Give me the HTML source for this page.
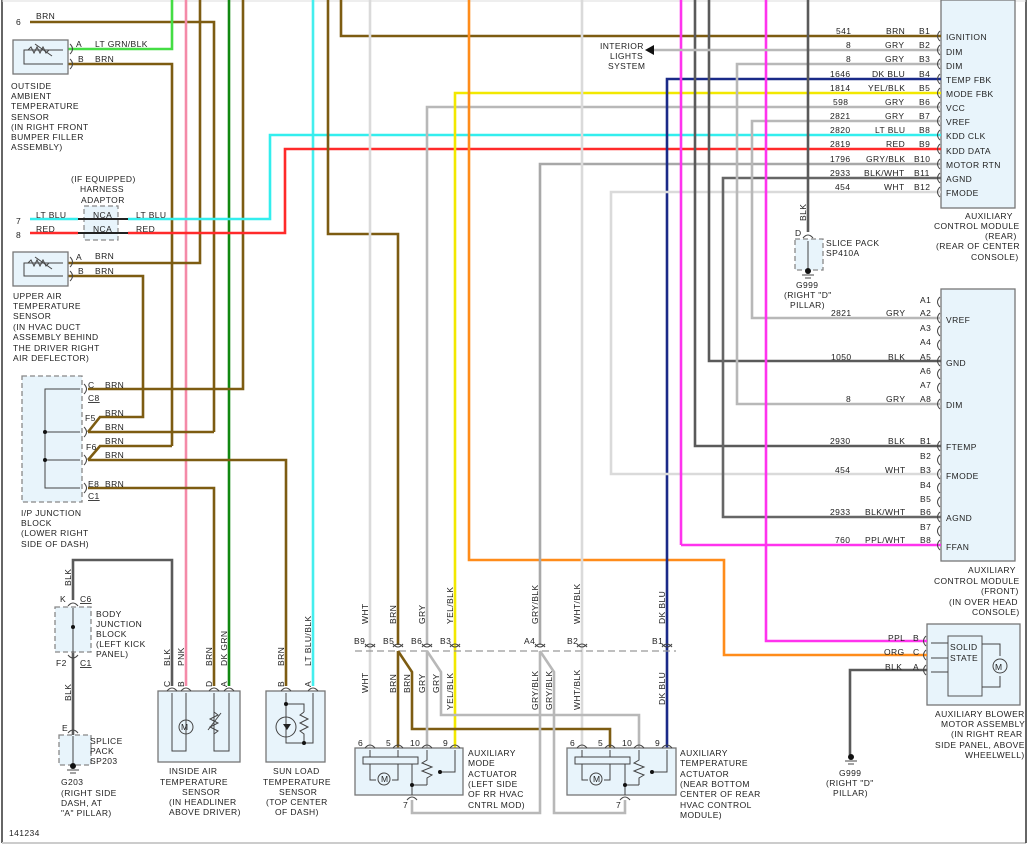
<!DOCTYPE html>
<html><head><meta charset="utf-8"><style>
html,body{margin:0;padding:0;background:#fff}
svg{display:block}
text{font-family:"Liberation Sans",sans-serif;font-size:8.5px;fill:#222;letter-spacing:0.4px}
.w{fill:none;stroke-width:2.6;stroke-linejoin:miter}
.brn{stroke:#7d5c12}
.gry{stroke:#b8b8b8}
.wht{stroke:#dadada}
.blk{stroke:#5a5a5a}
.box{fill:#e8f4fb;stroke:#777;stroke-width:1.3}
.dbox{fill:#e8f4fb;stroke:#888;stroke-width:1.3;stroke-dasharray:5,3}
.th{fill:none;stroke:#444;stroke-width:1}
.c{fill:none;stroke:#444;stroke-width:1}
</style></head><body>
<svg width="1034" height="848" viewBox="0 0 1034 848" xmlns="http://www.w3.org/2000/svg">
<!-- frame -->
<line x1="2" y1="0" x2="2" y2="843" stroke="#333" stroke-width="1.5"/>
<line x1="2" y1="843" x2="1026" y2="843" stroke="#ccc" stroke-width="2"/>
<line x1="1026" y1="0" x2="1026" y2="843" stroke="#333" stroke-width="1.5"/>
<line x1="2" y1="1" x2="1026" y2="1" stroke="#ddd" stroke-width="1"/>

<!-- module boxes -->
<rect x="941" y="0" width="74" height="208" class="box"/>
<rect x="941" y="289" width="74" height="272" class="box"/>
<rect x="927" y="624" width="93" height="81" class="box"/>

<!-- ===== WIRES ===== -->
<!-- left sensors -->
<polyline class="w brn" points="30,22 214,22 214,432"/>
<polyline class="w" stroke="#44dd44" points="68,49 172,49 172,0"/>
<polyline class="w brn" points="68,64 172,64 172,446"/>
<line class="w" stroke="#f48aa8" x1="186" y1="0" x2="186" y2="686"/>
<polyline class="w brn" points="200,0 200,263 68,263"/>
<line class="w" stroke="#118811" x1="229" y1="0" x2="229" y2="686"/>
<polyline class="w brn" points="243,0 243,389 88,389"/>
<polyline class="w brn" points="68,276 143,276 143,417 100,417 88,432"/>
<polyline class="w brn" points="88,432 214,432"/>
<polyline class="w brn" points="172,446 100,446 88,460"/>
<polyline class="w brn" points="88,460 286,460 286,686"/>
<polyline class="w brn" points="88,488 214,488 214,686"/>
<polyline class="w blk" points="73,600 73,560 172,560 172,686"/>
<line class="w blk" x1="73" y1="652" x2="73" y2="735"/>
<line class="w" stroke="#44eeee" x1="313" y1="0" x2="313" y2="686"/>
<!-- harness adaptor wires -->
<line class="w" stroke="#33eeee" x1="30" y1="219" x2="78" y2="219"/>
<polyline class="w" stroke="#33eeee" points="128,219 270,219 270,135 941,135"/>
<line class="w" stroke="#ff2a2a" x1="30" y1="233" x2="78" y2="233"/>
<polyline class="w" stroke="#ff2a2a" points="128,233 285,233 285,149 941,149"/>

<!-- center verticals -->
<polyline class="w brn" points="328,0 328,234 398,234 398,645"/>
<polyline class="w brn" points="341,0 341,36 941,36"/>
<line class="w wht" x1="370" y1="0" x2="370" y2="748"/>
<polyline class="w gry" points="941,107 427,107 427,645"/>
<polyline class="w" stroke="#f2e800" points="941,93 455,93 455,748"/>
<polyline class="w" stroke="#ff8c1a" points="469,0 469,560 724,560 724,655 927,655"/>
<polyline class="w" stroke="#a8a8a8" points="941,164 540,164 540,645"/>
<line class="w wht" x1="582" y1="0" x2="582" y2="748"/>
<polyline class="w" stroke="#1a2a88" points="941,79 667,79 667,748"/>
<polyline class="w wht" points="941,192 611,192 611,474 941,474"/>
<line class="w" stroke="#ff33ee" x1="681" y1="0" x2="681" y2="545"/>
<line class="w" stroke="#ff33ee" x1="681" y1="545" x2="941" y2="545"/>
<polyline class="w blk" points="695,0 695,446 941,446"/>
<polyline class="w blk" points="709,0 709,361 941,361"/>
<polyline class="w" stroke="#666" stroke-width="1.8" points="941,178 723,178 723,517 941,517"/>
<polyline class="w gry" points="941,64 737,64 737,404 941,404"/>
<polyline class="w gry" points="941,121 752,121 752,318 941,318"/>
<polyline class="w" stroke="#ff33ee" points="766,0 766,641 927,641"/>
<line class="w gry" x1="650" y1="50" x2="941" y2="50"/>
<polygon points="645,50 654,45 654,55" fill="#111"/>
<line class="w blk" x1="808" y1="0" x2="808" y2="232"/>
<polyline class="w blk" points="927,670 850,670 850,757"/>

<!-- actuator wiring below dashed line -->
<line x1="355" y1="651" x2="676" y2="651" stroke="#999" stroke-width="1.2" stroke-dasharray="7,4"/>
<line class="w brn" x1="398" y1="651" x2="398" y2="748"/>
<polyline class="w brn" points="398,651 412,672 412,729 610,729 610,748"/>
<line class="w gry" x1="427" y1="651" x2="427" y2="748"/>
<polyline class="w gry" points="427,651 441,672 441,715 639,715 639,748"/>
<polyline class="w gry" points="540,651 540,813 412,813 412,800"/>
<polyline class="w gry" points="540,651 554,672 554,813 625,813 625,800"/>

<!-- connector arcs top row (y=643) -->
<g class="c">
<path d="M365,647 q5,-6 10,0"/><path d="M393,647 q5,-6 10,0"/><path d="M422,647 q5,-6 10,0"/><path d="M450,647 q5,-6 10,0"/>
<path d="M535,647 q5,-6 10,0"/><path d="M577,647 q5,-6 10,0"/><path d="M662,647 q5,-6 10,0"/>
<path d="M365,644 q5,6 10,0"/><path d="M393,644 q5,6 10,0"/><path d="M422,644 q5,6 10,0"/><path d="M450,644 q5,6 10,0"/>
<path d="M535,644 q5,6 10,0"/><path d="M577,644 q5,6 10,0"/><path d="M662,644 q5,6 10,0"/>
</g>
<g font-size="8">
<text x="354" y="644">B9</text><text x="383" y="644">B5</text><text x="411" y="644">B6</text><text x="440" y="644">B3</text>
<text x="524" y="644">A4</text><text x="567" y="644">B2</text><text x="652" y="644">B1</text>
</g>
<!-- vertical wire labels -->
<g>
<text transform="translate(368,624) rotate(-90)">WHT</text>
<text transform="translate(396,624) rotate(-90)">BRN</text>
<text transform="translate(425,624) rotate(-90)">GRY</text>
<text transform="translate(453,624) rotate(-90)">YEL/BLK</text>
<text transform="translate(538,624) rotate(-90)">GRY/BLK</text>
<text transform="translate(580,624) rotate(-90)">WHT/BLK</text>
<text transform="translate(665,624) rotate(-90)">DK BLU</text>
<text transform="translate(368,693) rotate(-90)">WHT</text>
<text transform="translate(396,693) rotate(-90)">BRN</text>
<text transform="translate(410,693) rotate(-90)">BRN</text>
<text transform="translate(425,693) rotate(-90)">GRY</text>
<text transform="translate(439,693) rotate(-90)">GRY</text>
<text transform="translate(453,710) rotate(-90)">YEL/BLK</text>
<text transform="translate(538,710) rotate(-90)">GRY/BLK</text>
<text transform="translate(552,710) rotate(-90)">GRY/BLK</text>
<text transform="translate(580,710) rotate(-90)">WHT/BLK</text>
<text transform="translate(665,705) rotate(-90)">DK BLU</text>
</g>

<!-- actuators -->
<g>
<rect x="355" y="748" width="108" height="47" class="box"/>
<rect x="567" y="748" width="109" height="47" class="box"/>
<g class="c">
<path d="M365,748 q5,-6 10,0"/><path d="M393,748 q5,-6 10,0"/><path d="M422,748 q5,-6 10,0"/><path d="M450,748 q5,-6 10,0"/>
<path d="M577,748 q5,-6 10,0"/><path d="M605,748 q5,-6 10,0"/><path d="M634,748 q5,-6 10,0"/><path d="M662,748 q5,-6 10,0"/>
<path d="M407,800 q5,-6 10,0"/><path d="M620,800 q5,-6 10,0"/>
</g>
<g font-size="8"><text x="358" y="746">6</text><text x="386" y="746">5</text><text x="410" y="746">10</text><text x="443" y="746">9</text>
<text x="570" y="746">6</text><text x="598" y="746">5</text><text x="622" y="746">10</text><text x="655" y="746">9</text>
<text x="403" y="808">7</text><text x="616" y="808">7</text></g>
<g class="th">
<rect x="363" y="757" width="55" height="7"/><line x1="370" y1="750" x2="370" y2="757"/><line x1="398" y1="750" x2="398" y2="757"/>
<polyline points="370,764 370,780 376,780"/><polyline points="398,764 398,780 392,780"/><circle cx="384" cy="779" r="6"/>
<polyline points="412,764 412,785 427,785"/><line x1="412" y1="785" x2="412" y2="795"/>
<polyline points="427,750 427,760 422,763 432,767 422,771 432,775 427,778 427,785"/>
<polyline points="455,750 455,772 440,772"/>
<rect x="575" y="757" width="55" height="7"/><line x1="582" y1="750" x2="582" y2="757"/><line x1="610" y1="750" x2="610" y2="757"/>
<polyline points="582,764 582,780 588,780"/><polyline points="610,764 610,780 604,780"/><circle cx="596" cy="779" r="6"/>
<polyline points="625,764 625,785 639,785"/><line x1="625" y1="785" x2="625" y2="795"/>
<polyline points="639,750 639,760 634,763 644,767 634,771 644,775 639,778 639,785"/>
<polyline points="667,750 667,772 652,772"/>
</g>
<circle cx="412" cy="785" r="2" fill="#111"/><circle cx="440" cy="772" r="2" fill="#111"/><circle cx="625" cy="785" r="2" fill="#111"/><circle cx="652" cy="772" r="2" fill="#111"/>
<text x="381" y="782" font-size="7">M</text><text x="593" y="782" font-size="7">M</text>
<text x="468" y="756">AUXILIARY</text><text x="468" y="766">MODE</text><text x="468" y="777">ACTUATOR</text><text x="468" y="787">(LEFT SIDE</text><text x="468" y="797">OF RR HVAC</text><text x="468" y="808">CNTRL MOD)</text>
<text x="680" y="756">AUXILIARY</text><text x="680" y="766">TEMPERATURE</text><text x="680" y="777">ACTUATOR</text><text x="680" y="787">(NEAR BOTTOM</text><text x="680" y="797">CENTER OF REAR</text><text x="680" y="808">HVAC CONTROL</text><text x="680" y="818">MODULE)</text>
</g>

<!-- ===== LEFT SIDE ===== -->
<text x="16" y="25">6</text><text x="36" y="19">BRN</text>
<rect x="13" y="40" width="55" height="34" class="box"/>
<g class="th"><polyline points="63,50 24,50 24,64 63,64"/><polyline points="28,50 31,47 34,53 37,47 40,53 43,47 46,53 49,50"/><line x1="35" y1="44" x2="52" y2="56"/></g>
<g class="c"><path d="M70,44 q5,5 0,10"/><path d="M70,59 q5,5 0,10"/></g>
<text x="76" y="47">A</text><text x="95" y="47">LT GRN/BLK</text><text x="78" y="62">B</text><text x="95" y="62">BRN</text>
<text x="11" y="89">OUTSIDE</text><text x="11" y="99">AMBIENT</text><text x="11" y="109">TEMPERATURE</text><text x="11" y="120">SENSOR</text><text x="11" y="130">(IN RIGHT FRONT</text><text x="11" y="140">BUMPER FILLER</text><text x="11" y="150">ASSEMBLY)</text>

<text x="71" y="182">(IF EQUIPPED)</text><text x="80" y="192">HARNESS</text><text x="81" y="203">ADAPTOR</text>
<rect x="84" y="206" width="34" height="34" fill="#e8f4fb" stroke="#888" stroke-dasharray="5,3" stroke-width="1.2"/>
<line x1="78" y1="219" x2="128" y2="219" stroke="#222" stroke-width="2"/><line x1="78" y1="233" x2="128" y2="233" stroke="#222" stroke-width="2"/>
<text x="93" y="218">NCA</text><text x="93" y="232">NCA</text>
<text x="16" y="224">7</text><text x="36" y="218">LT BLU</text><text x="136" y="218">LT BLU</text>
<text x="16" y="238">8</text><text x="36" y="232">RED</text><text x="136" y="232">RED</text>

<rect x="13" y="252" width="55" height="34" class="box"/>
<g class="th"><polyline points="63,263 24,263 24,276 63,276"/><polyline points="28,263 31,260 34,266 37,260 40,266 43,260 46,266 49,263"/><line x1="35" y1="257" x2="52" y2="269"/></g>
<g class="c"><path d="M70,257 q5,5 0,10"/><path d="M70,271 q5,5 0,10"/></g>
<text x="76" y="260">A</text><text x="95" y="259">BRN</text><text x="78" y="274">B</text><text x="95" y="274">BRN</text>
<text x="13" y="299">UPPER AIR</text><text x="13" y="309">TEMPERATURE</text><text x="13" y="319">SENSOR</text><text x="13" y="330">(IN HVAC DUCT</text><text x="13" y="340">ASSEMBLY BEHIND</text><text x="13" y="351">THE DRIVER RIGHT</text><text x="13" y="361">AIR DEFLECTOR)</text>

<rect x="22" y="376" width="60" height="126" class="dbox"/>
<g class="th"><polyline points="80,389 45,389 45,488 80,488"/><line x1="45" y1="432" x2="80" y2="432"/><line x1="45" y1="460" x2="80" y2="460"/></g>
<circle cx="45" cy="432" r="2" fill="#111"/><circle cx="45" cy="460" r="2" fill="#111"/>
<g class="c"><path d="M84,384 q5,5 0,10"/><path d="M84,427 q5,5 0,10"/><path d="M84,455 q5,5 0,10"/><path d="M84,483 q5,5 0,10"/></g>
<text x="88" y="388">C</text><text x="88" y="401" text-decoration="underline">C8</text><text x="105" y="388">BRN</text>
<text x="85" y="421">F5</text><text x="105" y="416">BRN</text><text x="105" y="430">BRN</text>
<text x="86" y="450">F6</text><text x="105" y="444">BRN</text><text x="105" y="458">BRN</text>
<text x="88" y="487">E8</text><text x="105" y="487">BRN</text><text x="88" y="499" text-decoration="underline">C1</text>
<text x="21" y="516">I/P JUNCTION</text><text x="21" y="526">BLOCK</text><text x="21" y="536">(LOWER RIGHT</text><text x="21" y="547">SIDE OF DASH)</text>

<text transform="translate(71,586) rotate(-90)">BLK</text>
<text x="60" y="602">K</text><text x="80" y="602" text-decoration="underline">C6</text>
<rect x="55" y="607" width="36" height="45" class="dbox"/>
<g class="c"><path d="M68,606 q5,-6 10,0"/><path d="M68,655 q5,6 10,0"/></g>
<line x1="73" y1="608" x2="73" y2="652" stroke="#444"/><circle cx="73" cy="627" r="2" fill="#111"/>
<text x="96" y="617">BODY</text><text x="96" y="627">JUNCTION</text><text x="96" y="637">BLOCK</text><text x="96" y="647">(LEFT KICK</text><text x="96" y="657">PANEL)</text>
<text x="56" y="666">F2</text><text x="80" y="666" text-decoration="underline">C1</text>
<text transform="translate(71,701) rotate(-90)">BLK</text>
<text x="62" y="731">E</text>
<rect x="59" y="735" width="32" height="30" class="dbox"/>
<g class="c"><path d="M68,733 q5,-6 10,0"/></g>
<line x1="73" y1="736" x2="73" y2="765" stroke="#444"/><circle cx="73" cy="766" r="3" fill="#111"/>
<line x1="67" y1="770" x2="79" y2="770" stroke="#444"/><line x1="70" y1="773" x2="76" y2="773" stroke="#444"/>
<text x="90" y="744">SPLICE</text><text x="90" y="754">PACK</text><text x="90" y="764">SP203</text>
<text x="61" y="785">G203</text><text x="61" y="796">(RIGHT SIDE</text><text x="61" y="806">DASH, AT</text><text x="61" y="816">"A" PILLAR)</text>
<text x="9" y="836">141234</text>

<!-- inside air / sun load -->
<text transform="translate(170,666) rotate(-90)">BLK</text><text transform="translate(184,666) rotate(-90)">PNK</text>
<text transform="translate(212,666) rotate(-90)">BRN</text><text transform="translate(227,666) rotate(-90)">DK GRN</text>
<text transform="translate(284,666) rotate(-90)">BRN</text><text transform="translate(311,666) rotate(-90)">LT BLU/BLK</text>
<g font-size="7.5"><text transform="translate(170,687) rotate(-90)">C</text><text transform="translate(184,687) rotate(-90)">B</text><text transform="translate(212,687) rotate(-90)">D</text><text transform="translate(227,687) rotate(-90)">A</text><text transform="translate(284,687) rotate(-90)">B</text><text transform="translate(311,687) rotate(-90)">A</text></g>
<rect x="158" y="691" width="82" height="71" class="box"/>
<rect x="266" y="691" width="59" height="71" class="box"/>
<g class="c"><path d="M167,691 q5,-6 10,0"/><path d="M181,691 q5,-6 10,0"/><path d="M209,691 q5,-6 10,0"/><path d="M224,691 q5,-6 10,0"/><path d="M281,691 q5,-6 10,0"/><path d="M308,691 q5,-6 10,0"/></g>
<g class="th">
<polyline points="172,693 172,751 186,751 186,693"/><circle cx="186" cy="727" r="7"/>
<polyline points="214,693 214,751 229,751 229,693"/><polyline points="214,712 218,715 210,719 218,723 210,727 218,731 214,734"/><line x1="208" y1="730" x2="221" y2="713"/>
<polyline points="286,693 286,743 304,743 313,743 313,693"/><polyline points="286,704 304,704 304,712"/><polyline points="304,712 300,715 308,719 300,723 308,727 300,731 304,734 304,743"/><circle cx="286" cy="727" r="10"/>
</g>
<circle cx="286" cy="704" r="2" fill="#111"/><circle cx="304" cy="743" r="2" fill="#111"/>
<text x="181" y="730" font-size="7">M</text>
<polygon points="283,724 291,724 287,730" fill="#222"/>
<text x="169" y="774">INSIDE AIR</text><text x="160" y="785">TEMPERATURE</text><text x="182" y="795">SENSOR</text><text x="169" y="805">(IN HEADLINER</text><text x="169" y="815">ABOVE DRIVER)</text>
<text x="273" y="774">SUN LOAD</text><text x="263" y="785">TEMPERATURE</text><text x="279" y="795">SENSOR</text><text x="266" y="805">(TOP CENTER</text><text x="275" y="815">OF DASH)</text>

<!-- ===== RIGHT: rear module ===== -->
<text x="600" y="49">INTERIOR</text><text x="610" y="59">LIGHTS</text><text x="608" y="69">SYSTEM</text>
<g class="c">
<path d="M940,31 q-5,5 0,10"/><path d="M940,45 q-5,5 0,10"/><path d="M940,59 q-5,5 0,10"/><path d="M940,74 q-5,5 0,10"/><path d="M940,88 q-5,5 0,10"/><path d="M940,102 q-5,5 0,10"/><path d="M940,116 q-5,5 0,10"/><path d="M940,130 q-5,5 0,10"/><path d="M940,144 q-5,5 0,10"/><path d="M940,159 q-5,5 0,10"/><path d="M940,173 q-5,5 0,10"/><path d="M940,187 q-5,5 0,10"/>
</g>
<g>
<text x="836" y="34">541</text><text x="886" y="34">BRN</text><text x="919" y="34">B1</text><text x="946" y="40">IGNITION</text>
<text x="846" y="48">8</text><text x="885" y="48">GRY</text><text x="919" y="48">B2</text><text x="946" y="55">DIM</text>
<text x="846" y="62">8</text><text x="885" y="62">GRY</text><text x="919" y="62">B3</text><text x="946" y="69">DIM</text>
<text x="830" y="77">1646</text><text x="872" y="77">DK BLU</text><text x="919" y="77">B4</text><text x="946" y="83">TEMP FBK</text>
<text x="830" y="91">1814</text><text x="868" y="91">YEL/BLK</text><text x="919" y="91">B5</text><text x="946" y="97">MODE FBK</text>
<text x="833" y="105">598</text><text x="885" y="105">GRY</text><text x="919" y="105">B6</text><text x="946" y="111">VCC</text>
<text x="830" y="119">2821</text><text x="885" y="119">GRY</text><text x="919" y="119">B7</text><text x="946" y="125">VREF</text>
<text x="830" y="133">2820</text><text x="875" y="133">LT BLU</text><text x="919" y="133">B8</text><text x="946" y="139">KDD CLK</text>
<text x="830" y="147">2819</text><text x="886" y="147">RED</text><text x="919" y="147">B9</text><text x="946" y="154">KDD DATA</text>
<text x="830" y="162">1796</text><text x="866" y="162">GRY/BLK</text><text x="914" y="162">B10</text><text x="946" y="168">MOTOR RTN</text>
<text x="830" y="176">2933</text><text x="864" y="176">BLK/WHT</text><text x="914" y="176">B11</text><text x="946" y="182">AGND</text>
<text x="835" y="190">454</text><text x="884" y="190">WHT</text><text x="914" y="190">B12</text><text x="946" y="196">FMODE</text>
</g>
<text x="965" y="219">AUXILIARY</text><text x="934" y="229">CONTROL MODULE</text><text x="985" y="239">(REAR)</text><text x="936" y="249">(REAR OF CENTER</text><text x="971" y="260">CONSOLE)</text>

<!-- splice SP410A -->
<text transform="translate(806,221) rotate(-90)">BLK</text>
<text x="795" y="236">D</text>
<rect x="795" y="239" width="28" height="31" class="dbox"/>
<g class="c"><path d="M803,238 q5,-6 10,0"/></g>
<line x1="808" y1="241" x2="808" y2="270" stroke="#444"/><circle cx="808" cy="271" r="3" fill="#111"/>
<line x1="802" y1="275" x2="814" y2="275" stroke="#444"/><line x1="805" y1="278" x2="811" y2="278" stroke="#444"/>
<text x="826" y="246">SLICE PACK</text><text x="826" y="256">SP410A</text>
<text x="796" y="288">G999</text><text x="784" y="298">(RIGHT "D"</text><text x="790" y="308">PILLAR)</text>

<!-- front module -->
<g class="c">
<path d="M940,297 q-5,5 0,10"/><path d="M940,313 q-5,5 0,10"/><path d="M940,326 q-5,5 0,10"/><path d="M940,340 q-5,5 0,10"/><path d="M940,356 q-5,5 0,10"/><path d="M940,369 q-5,5 0,10"/><path d="M940,383 q-5,5 0,10"/><path d="M940,399 q-5,5 0,10"/>
<path d="M940,441 q-5,5 0,10"/><path d="M940,455 q-5,5 0,10"/><path d="M940,469 q-5,5 0,10"/><path d="M940,483 q-5,5 0,10"/><path d="M940,497 q-5,5 0,10"/><path d="M940,512 q-5,5 0,10"/><path d="M940,526 q-5,5 0,10"/><path d="M940,540 q-5,5 0,10"/>
</g>
<g>
<text x="920" y="303">A1</text>
<text x="831" y="316">2821</text><text x="886" y="316">GRY</text><text x="920" y="316">A2</text><text x="946" y="323">VREF</text>
<text x="920" y="331">A3</text><text x="920" y="345">A4</text>
<text x="831" y="360">1050</text><text x="888" y="360">BLK</text><text x="920" y="360">A5</text><text x="946" y="366">GND</text>
<text x="920" y="374">A6</text><text x="920" y="388">A7</text>
<text x="846" y="402">8</text><text x="886" y="402">GRY</text><text x="920" y="402">A8</text><text x="946" y="408">DIM</text>
<text x="830" y="444">2930</text><text x="888" y="444">BLK</text><text x="920" y="444">B1</text><text x="946" y="450">FTEMP</text>
<text x="920" y="459">B2</text>
<text x="835" y="473">454</text><text x="885" y="473">WHT</text><text x="920" y="473">B3</text><text x="946" y="479">FMODE</text>
<text x="920" y="488">B4</text><text x="920" y="502">B5</text>
<text x="830" y="515">2933</text><text x="865" y="515">BLK/WHT</text><text x="920" y="515">B6</text><text x="946" y="521">AGND</text>
<text x="920" y="530">B7</text>
<text x="835" y="543">760</text><text x="865" y="543">PPL/WHT</text><text x="920" y="543">B8</text><text x="946" y="550">FFAN</text>
</g>
<text x="968" y="573">AUXILIARY</text><text x="934" y="584">CONTROL MODULE</text><text x="981" y="594">(FRONT)</text><text x="949" y="605">(IN OVER HEAD</text><text x="972" y="615">CONSOLE)</text>

<!-- blower -->
<g class="c"><path d="M926,636 q-5,5 0,10"/><path d="M926,650 q-5,5 0,10"/><path d="M926,665 q-5,5 0,10"/></g>
<text x="888" y="641">PPL</text><text x="913" y="641">B</text>
<text x="884" y="655">ORG</text><text x="913" y="655">C</text>
<text x="885" y="670">BLK</text><text x="913" y="670">A</text>
<rect x="948" y="636" width="34" height="60" fill="#e8f4fb" stroke="#555" stroke-width="1"/>
<g class="th"><line x1="931" y1="643" x2="948" y2="643"/><line x1="931" y1="658" x2="948" y2="658"/><line x1="931" y1="672" x2="948" y2="672"/>
<polyline points="982,644 1000,644 1000,656"/><polyline points="982,687 1000,687 1000,676"/><circle cx="1000" cy="666" r="7"/></g>
<text x="950" y="650">SOLID</text><text x="950" y="661">STATE</text><text x="995" y="670" font-size="8">M</text>
<text x="935" y="717">AUXILIARY BLOWER</text><text x="941" y="727">MOTOR ASSEMBLY</text><text x="951" y="737">(IN RIGHT REAR</text><text x="935" y="748">SIDE PANEL, ABOVE</text><text x="965" y="758">WHEELWELL)</text>
<circle cx="851" cy="757" r="3" fill="#111"/>
<line x1="845" y1="761" x2="857" y2="761" stroke="#444"/><line x1="848" y1="764" x2="854" y2="764" stroke="#444"/>
<text x="839" y="776">G999</text><text x="826" y="786">(RIGHT "D"</text><text x="833" y="796">PILLAR)</text>
</svg>
</body></html>
